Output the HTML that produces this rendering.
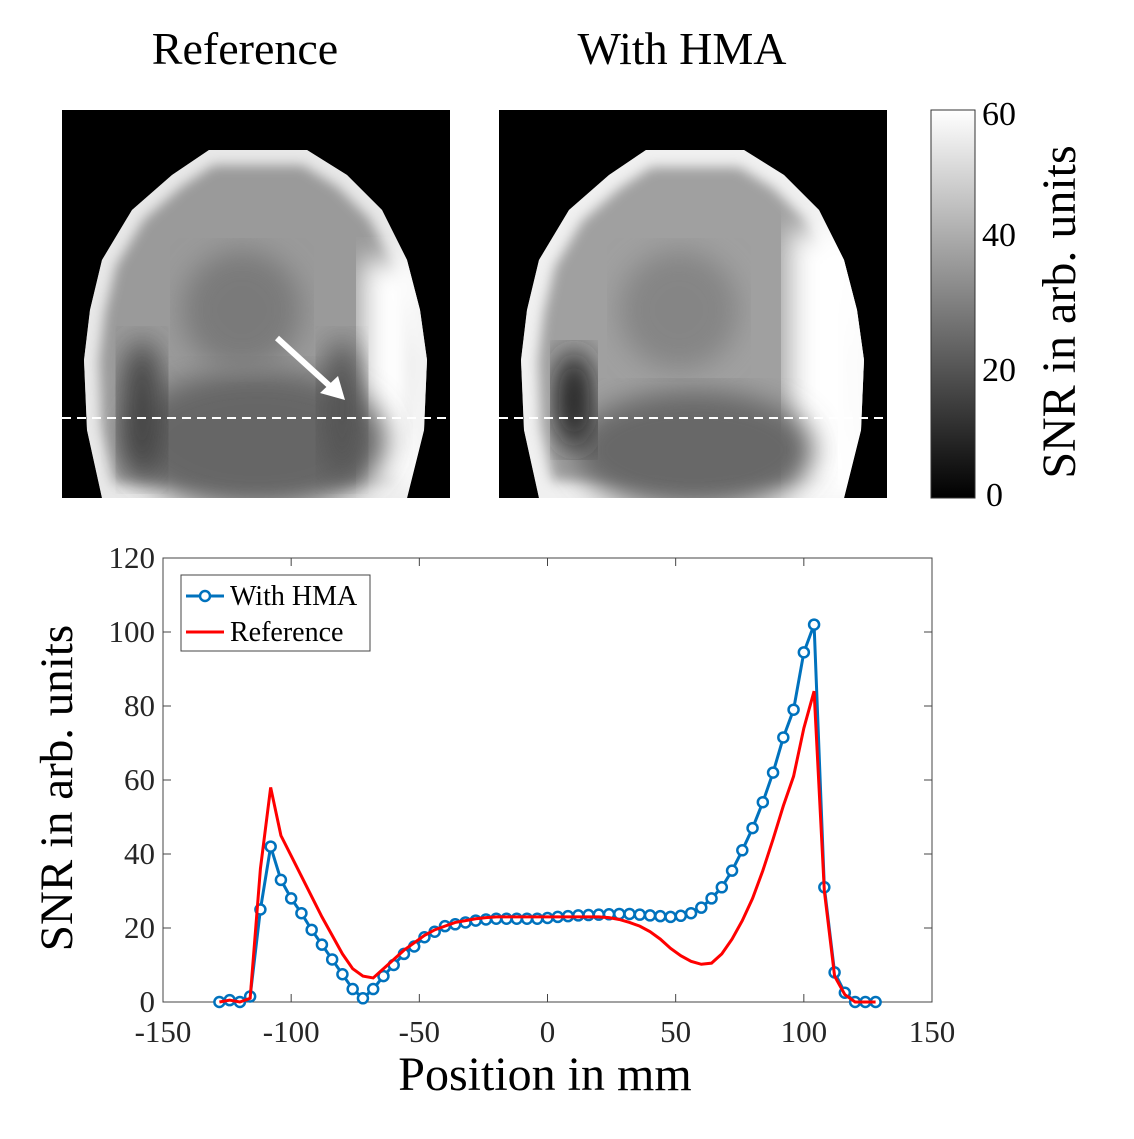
<!DOCTYPE html>
<html><head><meta charset="utf-8"><style>
body{margin:0;background:#fff;}
svg{display:block;font-family:"Liberation Serif",serif;}
</style></head><body>
<svg width="1134" height="1139" viewBox="0 0 1134 1139">
<defs>
<filter id="blur6"><feGaussianBlur stdDeviation="6"/></filter>
<filter id="blur12"><feGaussianBlur stdDeviation="14"/></filter>
<clipPath id="headClip"><path d="M147,40 L245,40 L285,65 L320,100 L345,150 L358,200 L365,250 L362,320 L345,388 L40,388 L25,320 L22,250 L28,200 L40,150 L70,100 L110,65 Z"/></clipPath>
<linearGradient id="cbar" x1="0" y1="1" x2="0" y2="0">
<stop offset="0" stop-color="#000"/><stop offset="1" stop-color="#fff"/></linearGradient>
</defs>
<text x="245" y="64" font-size="46" text-anchor="middle">Reference</text>
<text x="682" y="64" font-size="46" text-anchor="middle">With HMA</text>

<g transform="translate(62,110)">
<rect width="388" height="388" fill="#000"/>
<g clip-path="url(#headClip)">
<rect width="388" height="388" fill="#9a9a9a"/>
<path d="M147,40 L245,40 L285,65 L320,100 L345,150 L358,200 L365,250 L362,320 L345,388 L40,388 L25,320 L22,250 L28,200 L40,150 L70,100 L110,65 Z" fill="none" stroke="#e8e8e8" stroke-width="30" filter="url(#blur6)"/>
<rect x="300" y="150" width="60" height="230" fill="#fff" filter="url(#blur12)"/>
<ellipse cx="195" cy="330" rx="130" ry="70" fill="#666" filter="url(#blur12)"/>
<ellipse cx="80" cy="300" rx="22" ry="70" fill="#444" filter="url(#blur12)"/>
<ellipse cx="280" cy="300" rx="22" ry="70" fill="#555" filter="url(#blur12)"/>
<ellipse cx="180" cy="200" rx="60" ry="60" fill="#7a7a7a" filter="url(#blur12)"/>
</g>
<line x1="0" y1="308" x2="388" y2="308" stroke="#fff" stroke-width="2" stroke-dasharray="9,6"/>
<line x1="215" y1="228" x2="270" y2="278" stroke="#fff" stroke-width="6"/>
<polygon points="283,290 258,283 276,266" fill="#fff"/>
</g>

<g transform="translate(499,110)">
<rect width="388" height="388" fill="#000"/>
<g clip-path="url(#headClip)">
<rect width="388" height="388" fill="#a0a0a0"/>
<path d="M147,40 L245,40 L285,65 L320,100 L345,150 L358,200 L365,250 L362,320 L345,388 L40,388 L25,320 L22,250 L28,200 L40,150 L70,100 L110,65 Z" fill="none" stroke="#f0f0f0" stroke-width="34" filter="url(#blur6)"/>
<rect x="290" y="120" width="80" height="270" fill="#fff" filter="url(#blur12)"/>
<ellipse cx="195" cy="340" rx="120" ry="60" fill="#686868" filter="url(#blur12)"/>
<ellipse cx="75" cy="290" rx="20" ry="50" fill="#222" filter="url(#blur12)"/>
<ellipse cx="180" cy="200" rx="60" ry="60" fill="#858585" filter="url(#blur12)"/>
</g>
<line x1="0" y1="308" x2="388" y2="308" stroke="#fff" stroke-width="2" stroke-dasharray="9,6"/>
</g>

<g>
<rect x="931" y="110" width="44" height="388" fill="url(#cbar)" stroke="#333" stroke-width="1"/>
<text x="982" y="125" font-size="34">60</text>
<text x="982" y="246" font-size="34">40</text>
<text x="982" y="381" font-size="34">20</text>
<text x="986" y="506" font-size="34">0</text>
<text transform="translate(1075,312) rotate(-90)" font-size="48" text-anchor="middle">SNR in arb. units</text>
</g>

<g id="chart"></g>
</svg>
<script>
const positions=[-128,-124,-120,-116,-112,-108,-104,-100,-96,-92,-88,-84,-80,-76,-72,-68,-64,-60,-56,-52,-48,-44,-40,-36,-32,-28,-24,-20,-16,-12,-8,-4,0,4,8,12,16,20,24,28,32,36,40,44,48,52,56,60,64,68,72,76,80,84,88,92,96,100,104,108,112,116,120,124,128];
const hmaValues=[0,0.5,0,1.5,25,42,33,28,24,19.5,15.5,11.5,7.5,3.5,1,3.5,7,10,13,15,17.5,19,20.5,21,21.5,22,22.3,22.5,22.5,22.5,22.5,22.5,22.7,23,23.2,23.4,23.5,23.6,23.7,23.8,23.8,23.6,23.4,23.2,23,23.3,24,25.5,28,31,35.5,41,47,54,62,71.5,79,94.5,102,31,8,2.5,0,0,0];
const refValues=[0,0.5,0,1,36,58,45,39.5,34,28.5,23,18,13,9,7,6.5,9,11.5,14,16,18,19.5,20.5,21.5,22,22.5,22.8,23,23,23,23,23,23,23,23,23,23,23,22.8,22.3,21.5,20.5,19,17,14.5,12.5,11,10.2,10.5,13,17,22,28,35.5,44,53,61,74,84,30,7,2,0,0,0];
const xTicks=[-150,-100,-50,0,50,100,150];
const yTicks=[0,20,40,60,80,100,120];
const X0=163,X1=932,Y0=1002,Y1=558;
const sx=v=>X0+(v+150)/300*(X1-X0);
const sy=v=>Y0-v/120*(Y0-Y1);
const NS="http://www.w3.org/2000/svg";
const g=document.getElementById('chart');
function mk(t,a,p){const e=document.createElementNS(NS,t);for(const k in a)e.setAttribute(k,a[k]);(p||g).appendChild(e);return e;}
const box=mk('rect',{x:X0,y:Y1,width:X1-X0,height:Y0-Y1,fill:'#fff',stroke:'#444','stroke-width':1});


xTicks.forEach(t=>{
  mk('line',{x1:sx(t),x2:sx(t),y1:Y0,y2:Y0-8,stroke:'#444'});
  mk('line',{x1:sx(t),x2:sx(t),y1:Y1,y2:Y1+8,stroke:'#444'});
  const tx=mk('text',{x:sx(t),y:Y0+40,'font-size':31,'text-anchor':'middle',fill:'#262626'});
  tx.textContent=t;
  
  
});
yTicks.forEach(t=>{
  mk('line',{x1:X0,x2:X0+8,y1:sy(t),y2:sy(t),stroke:'#444'});
  mk('line',{x1:X1,x2:X1-8,y1:sy(t),y2:sy(t),stroke:'#444'});
  const tx=mk('text',{x:X0-8,y:sy(t)+10,'font-size':31,'text-anchor':'end',fill:'#262626'});
  tx.textContent=t;
  
  
});
const xl=mk('text',{x:545,y:1090,'font-size':48,'text-anchor':'middle'});
xl.textContent='Position in mm';


const yl=mk('text',{transform:'translate(72,788) rotate(-90)','font-size':47,'text-anchor':'middle'});
yl.textContent='SNR in arb. units';


const bl=mk('polyline',{points:positions.map((p,i)=>sx(p)+','+sy(hmaValues[i])).join(' '),fill:'none',stroke:'#0072bd','stroke-width':3});


positions.forEach((p,i)=>{
  const c=mk('circle',{cx:sx(p),cy:sy(hmaValues[i]),r:5,fill:'#fff',stroke:'#0072bd','stroke-width':2.5});
  
  
});
const rl=mk('polyline',{points:positions.map((p,i)=>sx(p)+','+sy(refValues[i])).join(' '),fill:'none',stroke:'#ff0000','stroke-width':3});


const lg=mk('g',{});


mk('rect',{x:181,y:575,width:189,height:76,fill:'#fff',stroke:'#444'},lg);
mk('line',{x1:186,x2:224,y1:596,y2:596,stroke:'#0072bd','stroke-width':3},lg);
mk('circle',{cx:205,cy:596,r:5,fill:'#fff',stroke:'#0072bd','stroke-width':2.5},lg);
mk('line',{x1:186,x2:224,y1:632,y2:632,stroke:'#ff0000','stroke-width':3},lg);
const t1=mk('text',{x:230,y:605,'font-size':28},lg);t1.textContent='With HMA';


const t2=mk('text',{x:230,y:641,'font-size':28},lg);t2.textContent='Reference';


</script>
</body></html>
